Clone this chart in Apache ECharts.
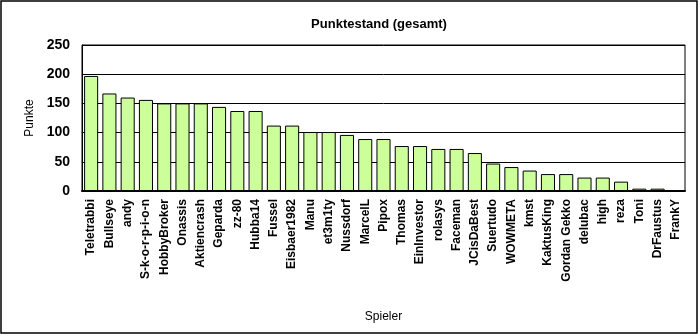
<!DOCTYPE html>
<html><head><meta charset="utf-8">
<script src="https://cdn.jsdelivr.net/npm/echarts@6/dist/echarts.min.js"></script>
<style>html,body{margin:0;padding:0;background:#fff}#c{width:699px;height:336px}</style>
</head><body><div id="c"></div>
<script>
const categories = ["Teletrabbi","Bullseye","andy","S-k-o-r-p-i-o-n","HobbyBroker","Onassis","Aktiencrash","Geparda","zz-80","Hubba14","Fussel","Eisbaer1982","Manu","et3m1ty","Nussdorf","MarcelL","Pipox","Thomas","EinInvestor","rolasys","Faceman","JCisDaBest","Suertudo","WOWMETA","kmst","KaktusKing","Gordan Gekko","delubac","high","reza","Toni","DrFaustus","FrankY"];
const punkte = [197,167,160,156,150,150,150,144,137,137,112,112,101,101,96,89,89,77,77,72,72,65,47,41,35,29,29,23,23,16,4,4,0];
const yTicks = [0,50,100,150,200,250];
const titleText = "Punktestand (gesamt)";
const xName = "Spieler";
const yName = "Punkte";

const chart = echarts.init(document.getElementById('c'), null, {renderer:'canvas'});
chart.setOption({
  animation:false,
  backgroundColor:'#fff',
  title:{text:titleText,left:374,top:13,textAlign:'center',
    textStyle:{fontFamily:'Arial, Liberation Sans',fontSize:13,fontWeight:'bold',color:'#000'}},
  grid:{left:82,right:14,top:45,bottom:145,containLabel:false,show:true,borderColor:'#000',borderWidth:1,backgroundColor:'transparent'},
  xAxis:{type:'category',data:categories,
    name:xName,nameLocation:'middle',nameGap:120,
    nameTextStyle:{fontFamily:'Arial, Liberation Sans',fontSize:12,color:'#000'},
    axisLine:{lineStyle:{color:'#000',width:2}},axisTick:{show:false},
    axisLabel:{rotate:90,interval:0,margin:8,fontFamily:'Arial, Liberation Sans',fontSize:12,fontWeight:'bold',color:'#000'}},
  yAxis:{type:'value',min:yTicks[0],max:yTicks[yTicks.length-1],interval:50,
    name:yName,nameLocation:'middle',nameGap:46,
    nameTextStyle:{fontFamily:'Arial, Liberation Sans',fontSize:12,color:'#000'},
    axisLine:{show:true,lineStyle:{color:'#000',width:1}},axisTick:{show:false},
    splitLine:{lineStyle:{color:'#000',width:1}},
    axisLabel:{margin:12,fontFamily:'Arial, Liberation Sans',fontSize:14,fontWeight:'bold',color:'#000'}},
  series:[{type:'bar',data:punkte,barCategoryGap:'23%',
    itemStyle:{color:'#ccff99',borderColor:'#000',borderWidth:1}}],
  graphic:[{type:'rect',shape:{x:1,y:1,width:696,height:332},style:{fill:'none',stroke:'#000',lineWidth:1.5},z:100}]
});
</script></body></html>
